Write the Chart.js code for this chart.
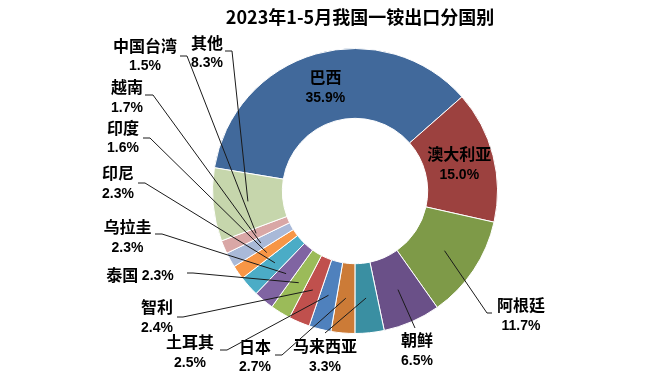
<!DOCTYPE html>
<html><head><meta charset="utf-8">
<script src="https://cdn.jsdelivr.net/npm/chart.js@4/dist/chart.umd.min.js"></script>
<style>html,body{margin:0;padding:0;background:#fff;} #wrap{width:659px;height:378px;position:relative;}</style>
</head><body><div id="wrap"><canvas id="c" width="659" height="378"></canvas></div>
<script>
const titleText = '2023年1-5月我国一铵出口分国别';
const categories = ['巴西','澳大利亚','阿根廷','朝鲜','马来西亚','日本','土耳其','智利','泰国','乌拉圭','印尼','印度','越南','中国台湾','其他'];
const shares = [35.9, 15.0, 11.7, 6.5, 3.3, 2.7, 2.5, 2.4, 2.3, 2.3, 2.3, 1.6, 1.7, 1.5, 8.3];
const pctLabels = shares.map(v => v.toFixed(1) + '%');
const sliceColors = ['#41699B','#9C413F','#7E9A48','#6A5088','#3A8FA2','#CC7B37',
  '#4F81BD','#C0504D','#9BBB59','#8064A2','#4BACC6','#F79646','#A9B9D8','#D9A7A6','#C6D6AC'];
const insideLabels = ['巴西','澳大利亚'];
const inlineLabels = ['泰国'];
// label block offsets from pie centre, leader start offsets, horizontal stub length
const labelLayout = {
  '阿根廷':   [166, 124.5, 137, 122, -5],
  '朝鲜':     [62, 159.5, 60, 137, 0],
  '马来西亚': [-30, 165.5, -30, 142, 0],
  '日本':     [-100, 166, -80, 164, 7],
  '土耳其':   [-165, 161.5, -135, 159, 7],
  '智利':     [-198, 126.5, -178, 126, 6],
  '泰国':     [-215, 84, -168, 82, 6],
  '乌拉圭':   [-227.5, 46.5, -200, 43, 7],
  '印尼':     [-237, -7.5, -217, -8, 7],
  '印度':     [-232, -53, -212, -53, 7],
  '越南':     [-228, -93.5, -210, -96, 8],
  '中国台湾': [-210, -135, -175, -135, 7],
  '其他':     [-148, -138, -130, -140, 7]
};
const nameFont = 'bold 16px "Noto Sans CJK SC"';
const pctFont = 'bold 14px "Liberation Sans", Arial, sans-serif';
const titleFont = 'bold 18px "Noto Sans CJK SC"';

const labelPlugin = {
  id: 'labelPlugin',
  afterDraw(chart) {
    const ctx = chart.ctx;
    const meta = chart.getDatasetMeta(0);
    ctx.save();
    // title
    ctx.fillStyle = '#000';
    ctx.font = titleFont;
    ctx.textAlign = 'center';
    ctx.textBaseline = 'middle';
    ctx.fillText(titleText, meta.data[0].x + 5, 17);

    meta.data.forEach((arc, i) => {
      const name = categories[i];
      const pct = pctLabels[i];
      const c = arc.tooltipPosition();
      const cx = arc.x, cy = arc.y;
      ctx.fillStyle = '#000';
      ctx.textBaseline = 'middle';
      if (insideLabels.includes(name)) {
        ctx.textAlign = 'center';
        ctx.font = nameFont;
        ctx.fillText(name, c.x, c.y - 10.5);
        ctx.font = pctFont;
        ctx.fillText(pct, c.x, c.y + 10.5);
        return;
      }
      const L = labelLayout[name];
      if (!L) return;
      const lx = cx + L[0], ly = cy + L[1];
      // leader line
      ctx.strokeStyle = '#1a1a1a';
      ctx.lineWidth = 1;
      ctx.beginPath();
      const sx = cx + L[2], sy = cy + L[3];
      ctx.moveTo(sx, sy);
      ctx.lineTo(sx + L[4], sy);
      ctx.lineTo(c.x, c.y);
      ctx.stroke();
      if (inlineLabels.includes(name)) {
        ctx.font = nameFont;
        const w1 = ctx.measureText(name + ' ').width;
        ctx.font = pctFont;
        const w2 = ctx.measureText(pct).width;
        let x0 = lx - (w1 + w2) / 2;
        ctx.textAlign = 'left';
        ctx.font = nameFont;
        ctx.fillText(name, x0, ly);
        ctx.font = pctFont;
        ctx.fillText(pct, x0 + w1, ly + 1);
      } else {
        ctx.textAlign = 'center';
        ctx.font = nameFont;
        ctx.fillText(name, lx, ly - 10.5);
        ctx.font = pctFont;
        ctx.fillText(pct, lx, ly + 10.5);
      }
    });
    ctx.restore();
  }
};

new Chart(document.getElementById('c'), {
  type: 'doughnut',
  data: {
    labels: categories,
    datasets: [{
      data: shares,
      backgroundColor: sliceColors,
      borderColor: '#ffffff',
      borderWidth: 1,
      hoverOffset: 0
    }]
  },
  options: {
    responsive: false,
    animation: false,
    rotation: -80.6,
    cutout: '51%',
    layout: { padding: { top: 48, bottom: 44, left: 51, right: 0 } },
    plugins: { legend: { display: false }, tooltip: { enabled: false }, title: { display: false } }
  },
  plugins: [labelPlugin]
});
</script>
</body></html>
